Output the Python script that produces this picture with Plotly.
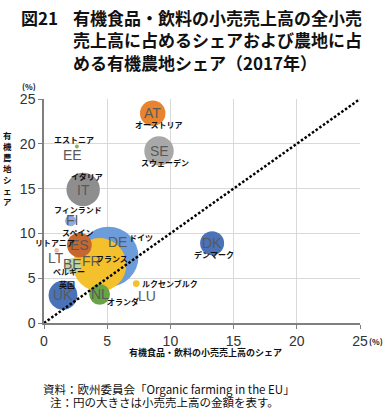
import plotly.graph_objects as go

# ---- data ----
codes = ["DE", "FR", "IT", "SE", "UK", "AT", "ES", "DK", "NL", "BE", "FI", "LU", "LT", "EE"]
names_ja = ["ドイツ", "フランス", "イタリア", "スウェーデン", "英国", "オーストリア", "スペイン",
            "デンマーク", "オランダ", "ベルギー", "フィンランド", "ルクセンブルク", "リトアニア", "エストニア"]
retail_share = [5.1, 4.4, 3.1, 9.1, 1.5, 8.6, 2.8, 13.3, 4.4, 2.3, 2.1, 7.3, 1.0, 2.6]   # x (%)
land_share = [7.4, 6.5, 14.9, 19.2, 3.1, 23.4, 8.7, 8.9, 3.2, 6.4, 11.4, 4.4, 8.1, 19.7]  # y (%)
retail_sales = [10000, 7900, 3100, 2400, 2300, 1800, 1700, 1600, 1200, 650, 330, 130, 60, 40]  # bubble size
x_ticks = [0, 5, 10, 15, 20, 25]
y_ticks = [0, 5, 10, 15, 20, 25]

# ---- styles ----
colors = {"DE": "#6C9DDA", "FR": "#F4C12C", "IT": "#8E8E8E", "SE": "#A8A8A8", "UK": "#4A72B8",
          "AT": "#E8832F", "ES": "#C5672E", "DK": "#4A72B8", "NL": "#68A444", "BE": "#BFD8A6",
          "FI": "#8FAADC", "LU": "#F4C12C", "LT": "#E8B9A6", "EE": "#8DB356"}
# label offsets in px: (code dx, code dy, name dx, name dy); dy positive = down
offsets = {"AT": (0, 0, 6, 11), "SE": (0, 0, 6, 12), "EE": (-4, 9, -3, -7), "IT": (0, 0, 4, -13),
           "FI": (1, -1, 7, -11), "ES": (0, 0, -2, -13), "DE": (9, -15, 33, -19), "FR": (-8, -4, 12, -6),
           "BE": (-1, -2, -4, 6), "LT": (-1, 8, -2, -8), "UK": (0, 0, 4, -11), "NL": (0, 0, 23, 7),
           "LU": (11, 12, 34, 0), "DK": (0, 0, 2, 11)}

W, H = 387, 410
ML, MR, MT, MB = 43.5, 27, 99, 87
PW, PH = W - ML - MR, H - MT - MB


def px(xp):
    return (xp - ML) / PW


def py(yp):
    return (H - MB - yp) / PH


JP = "Noto Sans CJK JP"
fig = go.Figure()

r_max = 30.0
sizeref = max(retail_sales) / 2 / r_max ** 2
fig.add_trace(go.Scatter(
    x=retail_share, y=land_share, mode="markers",
    marker=dict(size=retail_sales, sizemode="area", sizeref=sizeref, sizemin=1.5,
                color=[colors[c] for c in codes], line=dict(width=0), opacity=1),
    hoverinfo="skip", showlegend=False,
))
# 45-degree reference line
fig.add_trace(go.Scatter(
    x=[x_ticks[0], x_ticks[-1]], y=[y_ticks[0], y_ticks[-1]], mode="lines",
    line=dict(color="black", width=2.5, dash="2.5px,2px"), hoverinfo="skip", showlegend=False,
))

ann = []
for c, n, xv, yv in zip(codes, names_ja, retail_share, land_share):
    cdx, cdy, ndx, ndy = offsets[c]
    ann.append(dict(x=xv, y=yv, xref="x", yref="y", text=c, showarrow=False,
                    xshift=cdx, yshift=-cdy,
                    font=dict(family="Liberation Sans, Arial", size=14, color="#595959")))
    ann.append(dict(x=xv, y=yv, xref="x", yref="y", text="<b>" + n + "</b>", showarrow=False,
                    xshift=ndx, yshift=-ndy,
                    font=dict(family=JP, size=8, color="#111111")))

# title
title_font = dict(family=JP, size=17, color="#111111")
ann.append(dict(x=px(18), y=py(17), xref="paper", yref="paper", xanchor="left", yanchor="middle",
                text="<b>図21</b>", showarrow=False, font=title_font))
for i, line in enumerate(["有機食品・飲料の小売売上高の全小売",
                          "売上高に占めるシェアおよび農地に占",
                          "める有機農地シェア（2017年）"]):
    ann.append(dict(x=px(71), y=py(17 + 23 * i), xref="paper", yref="paper", xanchor="left",
                    yanchor="middle", text="<b>" + line + "</b>", showarrow=False, font=title_font))

# axis titles and unit marks
ann.append(dict(x=px(205), y=py(352), xref="paper", yref="paper", xanchor="center", yanchor="middle",
                text="<b>有機食品・飲料の小売売上高のシェア</b>", showarrow=False,
                font=dict(family=JP, size=9, color="#111111")))
ann.append(dict(x=px(7), y=py(168), xref="paper", yref="paper", xanchor="center", yanchor="middle",
                text="<b>" + "<br>".join("有機農地シェア") + "</b>", showarrow=False,
                font=dict(family=JP, size=8.5, color="#111111")))
ann.append(dict(x=px(28), y=py(86), xref="paper", yref="paper", xanchor="center", yanchor="middle",
                text="<b>(%)</b>", showarrow=False, font=dict(family=JP, size=8, color="#111111")))
ann.append(dict(x=px(376), y=py(341), xref="paper", yref="paper", xanchor="center", yanchor="middle",
                text="<b>(%)</b>", showarrow=False, font=dict(family=JP, size=8, color="#111111")))

# source / note
ann.append(dict(x=px(40), y=py(389), xref="paper", yref="paper", xanchor="left", yanchor="middle",
                text="資料：欧州委員会「Organic farming in the EU」", showarrow=False,
                font=dict(family=JP, size=11.5, color="#111111")))
ann.append(dict(x=px(48), y=py(402), xref="paper", yref="paper", xanchor="left", yanchor="middle",
                text="注：円の大きさは小売売上高の金額を表す。", showarrow=False,
                font=dict(family=JP, size=11.5, color="#111111")))

axis_common = dict(showgrid=True, gridcolor="#D9D9D9", gridwidth=1, zeroline=False,
                   showline=True, linecolor="#7F7F7F", linewidth=1.5,
                   ticks="outside", ticklen=4, tickcolor="#7F7F7F",
                   tickfont=dict(family="Liberation Sans, Arial", size=14, color="#333333"))
fig.update_layout(
    width=W, height=H, margin=dict(l=ML, r=MR, t=MT, b=MB),
    paper_bgcolor="white", plot_bgcolor="white",
    xaxis=dict(range=[x_ticks[0], x_ticks[-1]], tickvals=x_ticks, **axis_common),
    yaxis=dict(range=[y_ticks[0], y_ticks[-1]], tickvals=y_ticks, **axis_common),
    annotations=ann,
)
fig.write_html("out.html", config={"displayModeBar": False},
               post_script="document.body.style.margin='0';document.body.style.overflow='hidden';")
